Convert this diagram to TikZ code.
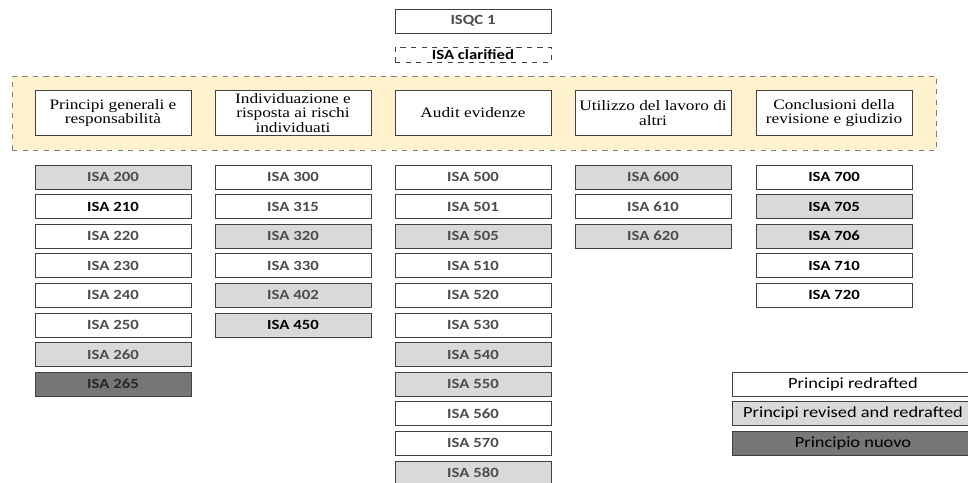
\documentclass[tikz,border=0pt]{standalone}
\usepackage{fontspec}
\newfontfamily\isafont[FakeStretch=1.19]{Carlito}
\newfontfamily\headfont[FakeStretch=1.2]{Liberation Serif}
\usetikzlibrary{positioning}
\definecolor{revgray}{HTML}{D9D9D9}
\definecolor{newgray}{HTML}{767676}
\definecolor{bandyellow}{HTML}{FFF2CC}
\definecolor{edgegray}{HTML}{404040}

\begin{document}
\begin{tikzpicture}[x=0.02cm,y=-0.02cm,node distance=0.112cm,
  box/.style={draw=edgegray,line width=0.5pt,fill=white,minimum width=3.12cm,minimum height=0.48cm,
    inner sep=0pt,outer sep=0pt,text=black!70,font=\isafont\bfseries\fontsize{8}{9}\selectfont},
  revised/.style={fill=revgray},
  nuovo/.style={fill=newgray,text=black!85},
  nero/.style={text=black},
  head/.style={draw=edgegray,line width=0.5pt,fill=white,minimum width=3.12cm,minimum height=0.9cm,
    align=center,inner sep=0pt,font=\headfont\fontsize{8.2}{8.2}\selectfont},
  legend/.style={box,minimum width=4.84cm,text=black,font=\isafont\fontsize{8.8}{10}\selectfont}]
  \useasboundingbox (0,0) rectangle (968,483);

  % top
  \node[box] (isqc) at (473,21) {ISQC 1};
  \node[box,nero,dashed,minimum height=0.3cm] (clarified) at (473,54.5) {ISA clarified};

  % yellow band with the five areas
  \node[draw=gray,dashed,line width=0.5pt,fill=bandyellow,minimum width=18.5cm,minimum height=1.48cm,inner sep=0pt]
    (band) at (474.5,113) {};
  \node[head] (generali) at (113,113) {Principi generali e\\responsabilità};
  \node[head] (rischi) at (293,113) {Individuazione e\\risposta ai rischi\\individuati};
  \node[head] (evidenze) at (473,113) {Audit evidenze};
  \node[head] (altri) at (653,113) {Utilizzo del lavoro di\\altri};
  \node[head] (giudizio) at (834,113) {Conclusioni della\\revisione e giudizio};

  % column 1
  \node[box,revised] (isa200) at (113,177) {ISA 200};
  \node[box,nero] (isa210) [below=of isa200] {ISA 210};
  \node[box] (isa220) [below=of isa210] {ISA 220};
  \node[box] (isa230) [below=of isa220] {ISA 230};
  \node[box] (isa240) [below=of isa230] {ISA 240};
  \node[box] (isa250) [below=of isa240] {ISA 250};
  \node[box,revised] (isa260) [below=of isa250] {ISA 260};
  \node[box,nuovo] (isa265) [below=of isa260] {ISA 265};

  % column 2
  \node[box] (isa300) at (293,177) {ISA 300};
  \node[box] (isa315) [below=of isa300] {ISA 315};
  \node[box,revised] (isa320) [below=of isa315] {ISA 320};
  \node[box] (isa330) [below=of isa320] {ISA 330};
  \node[box,revised] (isa402) [below=of isa330] {ISA 402};
  \node[box,revised,nero] (isa450) [below=of isa402] {ISA 450};

  % column 3
  \node[box] (isa500) at (473,177) {ISA 500};
  \node[box] (isa501) [below=of isa500] {ISA 501};
  \node[box,revised] (isa505) [below=of isa501] {ISA 505};
  \node[box] (isa510) [below=of isa505] {ISA 510};
  \node[box] (isa520) [below=of isa510] {ISA 520};
  \node[box] (isa530) [below=of isa520] {ISA 530};
  \node[box,revised] (isa540) [below=of isa530] {ISA 540};
  \node[box,revised] (isa550) [below=of isa540] {ISA 550};
  \node[box] (isa560) [below=of isa550] {ISA 560};
  \node[box] (isa570) [below=of isa560] {ISA 570};
  \node[box,revised] (isa580) [below=of isa570] {ISA 580};

  % column 4
  \node[box,revised] (isa600) at (653,177) {ISA 600};
  \node[box] (isa610) [below=of isa600] {ISA 610};
  \node[box,revised] (isa620) [below=of isa610] {ISA 620};

  % column 5
  \node[box,nero] (isa700) at (834,177) {ISA 700};
  \node[box,revised,nero] (isa705) [below=of isa700] {ISA 705};
  \node[box,revised,nero] (isa706) [below=of isa705] {ISA 706};
  \node[box,nero] (isa710) [below=of isa706] {ISA 710};
  \node[box,nero] (isa720) [below=of isa710] {ISA 720};

  % legend
  \node[legend] (redrafted) at (853,384) {Principi redrafted};
  \node[legend,revised] (revredrafted) [below=of redrafted] {Principi revised and redrafted};
  \node[legend,nuovo,text=black] (nuovo) [below=of revredrafted] {Principio nuovo};
\end{tikzpicture}
\end{document}
